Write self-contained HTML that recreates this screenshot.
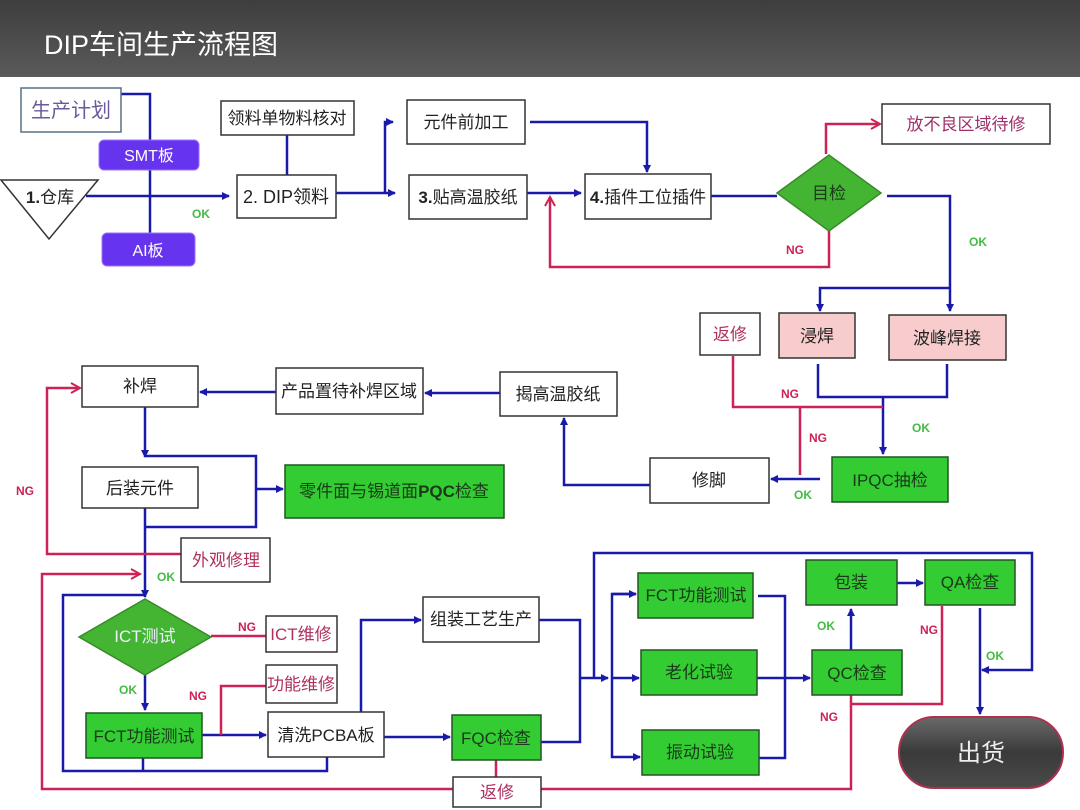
<!DOCTYPE html>
<html><head><meta charset="utf-8"><style>
html,body{margin:0;padding:0;background:#fff;}
svg{display:block;font-family:"Liberation Sans","Noto Sans CJK SC",sans-serif;}
</style></head><body>
<svg width="1080" height="810" viewBox="0 0 1080 810" xmlns="http://www.w3.org/2000/svg">
<defs>
<linearGradient id="hd" x1="0" y1="0" x2="0" y2="1"><stop offset="0" stop-color="#3e3e3e"/><stop offset="1" stop-color="#5a5a5a"/></linearGradient>
<linearGradient id="pill" x1="0" y1="0" x2="0" y2="1"><stop offset="0" stop-color="#6a6a6a"/><stop offset="0.5" stop-color="#3a3a3a"/><stop offset="1" stop-color="#4a4a4a"/></linearGradient>
<marker id="ab" markerWidth="8" markerHeight="8" refX="7" refY="4" orient="auto" markerUnits="userSpaceOnUse"><path d="M0,0 L8,4 L0,8 z" fill="#1a1aaa"/></marker>
<marker id="ar" markerWidth="12" markerHeight="12" refX="10" refY="6" orient="auto" markerUnits="userSpaceOnUse"><path d="M1,1 L10,6 L1,11" fill="none" stroke="#cc2255" stroke-width="2"/></marker>
</defs>
<rect x="0" y="0" width="1080" height="77" fill="url(#hd)"/>
<text x="44" y="54" font-size="27" fill="#fff">DIP车间生产流程图</text>

<g fill="none" stroke-width="2.5">
<!-- blue connectors -->
<g stroke="#1a1aaa">
<path d="M121,94 H150 V233"/>
<path d="M86,196 H229" marker-end="url(#ab)"/>
<path d="M287,135 V175"/>
<path d="M326,193 H385 V122 H393" marker-end="url(#ab)"/>
<path d="M385,193 H395" marker-end="url(#ab)"/>
<path d="M530,122 H647 V172" marker-end="url(#ab)"/>
<path d="M512,193 H581" marker-end="url(#ab)"/>
<path d="M705,196 H777"/>
<path d="M887,196 H950 V311" marker-end="url(#ab)"/>
<path d="M950,288 H820 V311" marker-end="url(#ab)"/>
<path d="M818,364 V397 H947 V364"/>
<path d="M883,397 V454" marker-end="url(#ab)"/>
<path d="M820,479 H771" marker-end="url(#ab)"/>
<path d="M650,485 H564 V418" marker-end="url(#ab)"/>
<path d="M500,393 H425" marker-end="url(#ab)"/>
<path d="M276,392 H200" marker-end="url(#ab)"/>
<path d="M145,407 V457" marker-end="url(#ab)"/>
<path d="M145,456 H256 V527 H145"/>
<path d="M256,489 H283" marker-end="url(#ab)"/>
<path d="M145,508 V597" marker-end="url(#ab)"/>
<path d="M146,595 H63 V771 H327 V757"/>
<path d="M143,758 V771"/>
<path d="M145,675 V710" marker-end="url(#ab)"/>
<path d="M176,735 H266" marker-end="url(#ab)"/>
<path d="M384,737 H450" marker-end="url(#ab)"/>
<path d="M361,712 V620 H421" marker-end="url(#ab)"/>
<path d="M539,620 H580 V742 H541"/>
<path d="M580,678 H608" marker-end="url(#ab)"/>
<path d="M612,678"/>
<path d="M636,594 H612 V757 H640" marker-end="url(#ab)"/>
<path d="M612,594 H636" marker-end="url(#ab)"/>
<path d="M612,678 H639" marker-end="url(#ab)"/>
<path d="M594,678 V553 H1032 V670 H982" marker-end="url(#ab)"/>
<path d="M758,596 H785 V758 H759"/>
<path d="M757,678 H810" marker-end="url(#ab)"/>
<path d="M851,650 V609" marker-end="url(#ab)"/>
<path d="M897,583 H923" marker-end="url(#ab)"/>
<path d="M980,608 V714" marker-end="url(#ab)"/>
</g>
<!-- red connectors -->
<g stroke="#cc2255">
<path d="M826,154 V124 H880" marker-end="url(#ar)"/>
<path d="M829,231 V267 H550 V197" marker-end="url(#ar)"/>
<path d="M733,356 V407 H883"/>
<path d="M800,407 V475"/>
<path d="M181,554 H47 V388 H80" marker-end="url(#ar)"/>
<path d="M453,789 H42 V574 H140" marker-end="url(#ar)"/>
<path d="M541,789 H851 V695"/>
<path d="M942,606 V704 H851"/>
<path d="M496,760 V777"/>
<path d="M211,636 H266"/>
<path d="M221,735 V686 H266"/>
</g>
</g>

<!-- nodes -->
<g stroke="#333" stroke-width="1.5" fill="#fff">
<rect x="21" y="88" width="100" height="44" stroke="#55708a"/>
<polygon points="1,180 98,180 49,239"/>
<rect x="221" y="101" width="133" height="34"/>
<rect x="237" y="175" width="99" height="43"/>
<rect x="407" y="100" width="118" height="44"/>
<rect x="409" y="175" width="118" height="44"/>
<rect x="585" y="174" width="126" height="45"/>
<rect x="882" y="104" width="168" height="40"/>
<rect x="700" y="313" width="60" height="42"/>
<rect x="779" y="313" width="76" height="45" fill="#f8cccc"/>
<rect x="889" y="315" width="117" height="45" fill="#f8cccc"/>
<rect x="500" y="372" width="117" height="44"/>
<rect x="276" y="368" width="147" height="46"/>
<rect x="82" y="366" width="116" height="41"/>
<rect x="82" y="467" width="116" height="41"/>
<rect x="650" y="458" width="119" height="45"/>
<rect x="181" y="538" width="89" height="44"/>
<rect x="266" y="616" width="71" height="36"/>
<rect x="266" y="665" width="71" height="38"/>
<rect x="268" y="712" width="116" height="45"/>
<rect x="423" y="597" width="116" height="45"/>
<rect x="453" y="777" width="88" height="30"/>
</g>
<g stroke="#225522" stroke-width="1.5" fill="#33cc33">
<polygon points="777,193 829,155 881,193 829,231" fill="#44b533" stroke="#3a8a2a"/>
<polygon points="79,637 145,599 211,637 145,675" fill="#44b533" stroke="#3a8a2a"/>
<rect x="285" y="465" width="219" height="53"/>
<rect x="832" y="457" width="116" height="45"/>
<rect x="86" y="713" width="116" height="45"/>
<rect x="452" y="715" width="89" height="45"/>
<rect x="638" y="573" width="115" height="45"/>
<rect x="641" y="650" width="116" height="45"/>
<rect x="642" y="730" width="117" height="45"/>
<rect x="812" y="650" width="90" height="45"/>
<rect x="806" y="560" width="91" height="45"/>
<rect x="925" y="560" width="90" height="45"/>
</g>
<rect x="99" y="140" width="100" height="30" rx="5" fill="#6633ee" stroke="#a070ff"/>
<rect x="102" y="233" width="93" height="33" rx="5" fill="#6633ee" stroke="#a070ff"/>
<rect x="899" y="717" width="164" height="71" rx="35" fill="url(#pill)" stroke="#b03050" stroke-width="2"/>

<!-- text -->
<g font-size="17" text-anchor="middle" fill="#222">
<text x="71" y="117" fill="#6a5a9a" font-size="20">生产计划</text>
<text x="149" y="161" fill="#fff" font-size="16">SMT板</text>
<text x="148" y="256" fill="#fff" font-size="16">AI板</text>
<text x="50" y="203" font-size="17"><tspan font-weight="bold">1.</tspan>仓库</text>
<text x="287" y="124">领料单物料核对</text>
<text x="286" y="203" font-size="18">2. DIP领料</text>
<text x="466" y="128">元件前加工</text>
<text x="468" y="203"><tspan font-weight="bold">3.</tspan>贴高温胶纸</text>
<text x="648" y="203"><tspan font-weight="bold">4.</tspan>插件工位插件</text>
<text x="829" y="199" fill="#1a3a1a">目检</text>
<text x="966" y="130" fill="#a0306a">放不良区域待修</text>
<text x="730" y="340" fill="#b03060">返修</text>
<text x="817" y="342">浸焊</text>
<text x="947" y="344">波峰焊接</text>
<text x="558" y="400">揭高温胶纸</text>
<text x="349" y="397">产品置待补焊区域</text>
<text x="140" y="392">补焊</text>
<text x="140" y="494">后装元件</text>
<text x="394" y="497" fill="#1a3a1a">零件面与锡道面<tspan font-weight="bold">PQC</tspan>检查</text>
<text x="709" y="486">修脚</text>
<text x="890" y="486" fill="#1a3a1a">IPQC抽检</text>
<text x="226" y="566" fill="#b03060">外观修理</text>
<text x="145" y="642" fill="#eef">ICT测试</text>
<text x="301" y="640" fill="#b03060">ICT维修</text>
<text x="301" y="690" fill="#b03060">功能维修</text>
<text x="144" y="742" fill="#1a3a1a">FCT功能测试</text>
<text x="326" y="741">清洗PCBA板</text>
<text x="481" y="625">组装工艺生产</text>
<text x="496" y="744" fill="#1a3a1a">FQC检查</text>
<text x="497" y="798" fill="#b03060">返修</text>
<text x="696" y="601" fill="#1a3a1a">FCT功能测试</text>
<text x="699" y="678" fill="#1a3a1a">老化试验</text>
<text x="700" y="758" fill="#1a3a1a">振动试验</text>
<text x="857" y="679" fill="#1a3a1a">QC检查</text>
<text x="851" y="588" fill="#1a3a1a">包装</text>
<text x="970" y="588" fill="#1a3a1a">QA检查</text>
<text x="981" y="761" fill="#eee" font-size="24">出货</text>
</g>
<g font-size="12" font-weight="bold" text-anchor="middle">
<g fill="#44bb44">
<text x="201" y="218">OK</text><text x="978" y="246">OK</text><text x="921" y="432">OK</text>
<text x="803" y="499">OK</text><text x="166" y="581">OK</text><text x="128" y="694">OK</text>
<text x="826" y="630">OK</text><text x="995" y="660">OK</text>
</g>
<g fill="#cc2255">
<text x="795" y="254">NG</text><text x="790" y="398">NG</text><text x="818" y="442">NG</text>
<text x="25" y="495">NG</text><text x="247" y="631">NG</text><text x="198" y="700">NG</text>
<text x="929" y="634">NG</text><text x="829" y="721">NG</text>
</g>
</g>
</svg>
</body></html>
